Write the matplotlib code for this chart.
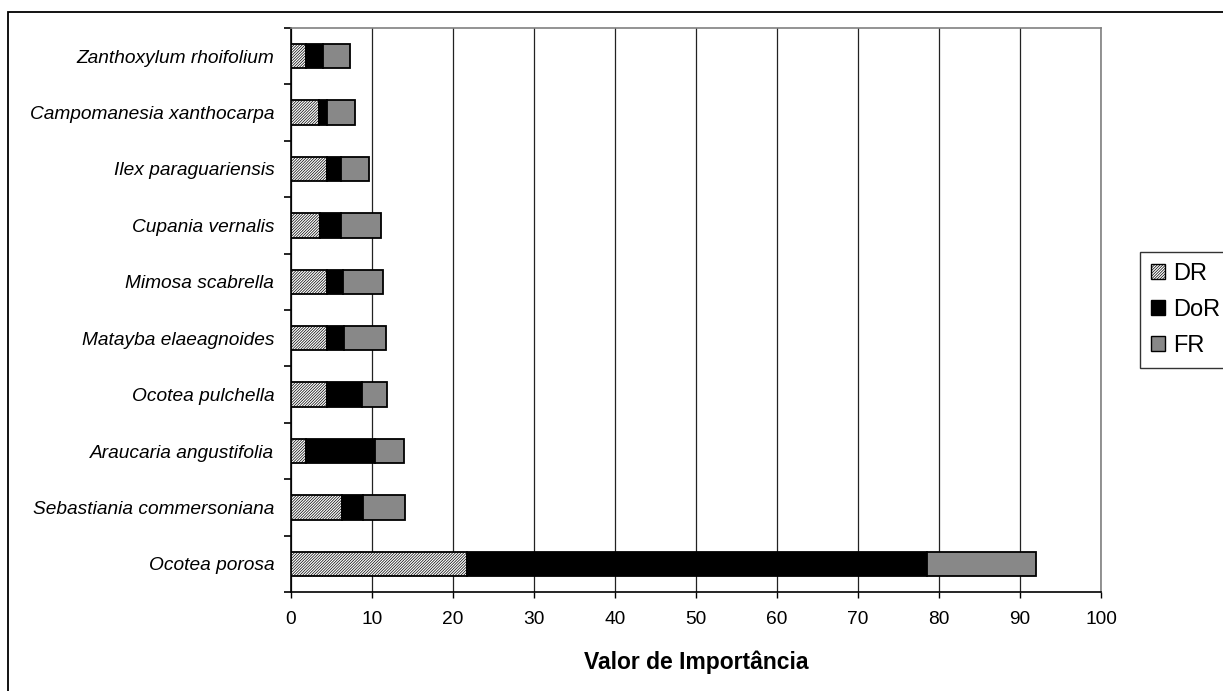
import numpy as np
import matplotlib.pyplot as plt
from matplotlib.patches import Rectangle, Patch

plt.rcParams['font.family'] = ['Liberation Sans', 'DejaVu Sans']
plt.rcParams['hatch.linewidth'] = 0.5

species = ["Ocotea porosa", "Sebastiania commersoniana", "Araucaria angustifolia",
           "Ocotea pulchella", "Matayba elaeagnoides", "Mimosa scabrella",
           "Cupania vernalis", "Ilex paraguariensis", "Campomanesia xanthocarpa",
           "Zanthoxylum rhoifolium"]
DR = [21.7, 6.3, 1.8, 4.4, 4.4, 4.4, 3.6, 4.4, 3.5, 1.8]
DoR = [56.8, 2.6, 8.6, 4.4, 2.1, 2.0, 2.6, 1.8, 0.9, 2.1]
FR = [13.5, 5.2, 3.5, 3.1, 5.2, 4.9, 4.9, 3.4, 3.5, 3.4]
xticks = list(range(0, 101, 10))

fig = plt.figure(figsize=(12.23, 6.91), dpi=100)
ax = fig.add_axes([291/1223, 99/691, 810/1223, 564/691])

y = np.arange(len(species))
h = 0.43
hatch_dr = '/' * 12
left2 = np.array(DR) + np.array(DoR)
ax.barh(y, DR, height=h, color='white', edgecolor='black', hatch=hatch_dr, lw=1.3, zorder=3)
ax.barh(y, DoR, left=DR, height=h, color='black', edgecolor='black', lw=1.3, zorder=3)
ax.barh(y, FR, left=left2, height=h, color='#888888', edgecolor='black', lw=1.3, zorder=3)

ax.set_xlim(0, 100)
ax.set_ylim(-0.5, len(species) - 0.5)
ax.set_xticks(xticks)
ax.set_xticklabels([str(v) for v in xticks], fontsize=13.8)
ax.set_yticks(y)
ax.set_yticklabels(species, fontsize=13.8, style='italic')
ax.tick_params(axis='y', length=0, pad=12)
ax.set_yticks(np.arange(-0.5, len(species), 1), minor=True)
ax.tick_params(axis='y', which='minor', length=5, width=1.2, direction='out')
ax.tick_params(axis='x', length=4, width=1, direction='out', pad=10)
ax.grid(axis='x', color='#222222', lw=0.9, zorder=0)
ax.set_axisbelow(True)
for s in ['top', 'right']:
    ax.spines[s].set_color('#808080')
    ax.spines[s].set_linewidth(1.2)
for s in ['left', 'bottom']:
    ax.spines[s].set_color('black')
    ax.spines[s].set_linewidth(1.2)
ax.set_xlabel("Valor de Importância", fontsize=16.5, fontweight='bold', labelpad=16)

handles = [Patch(facecolor='white', edgecolor='black', hatch=hatch_dr),
           Patch(facecolor='black', edgecolor='black'),
           Patch(facecolor='#888888', edgecolor='black')]
leg = fig.legend(handles, ["DR", "DoR", "FR"], loc='upper left',
                 bbox_to_anchor=(1140/1223, 1 - 252/691), fontsize=17,
                 frameon=True, fancybox=False, edgecolor='black',
                 handlelength=0.6, handleheight=0.6, handletextpad=0.35,
                 labelspacing=0.6, borderpad=0.45, borderaxespad=0)
leg.get_frame().set_linewidth(1.0)

fig.patches.append(Rectangle((8/1223, -0.1), 1.2, (691 - 12)/691 + 0.1,
                             transform=fig.transFigure, fill=False,
                             edgecolor='black', lw=1.3))

fig.savefig("out.png", dpi=100)
